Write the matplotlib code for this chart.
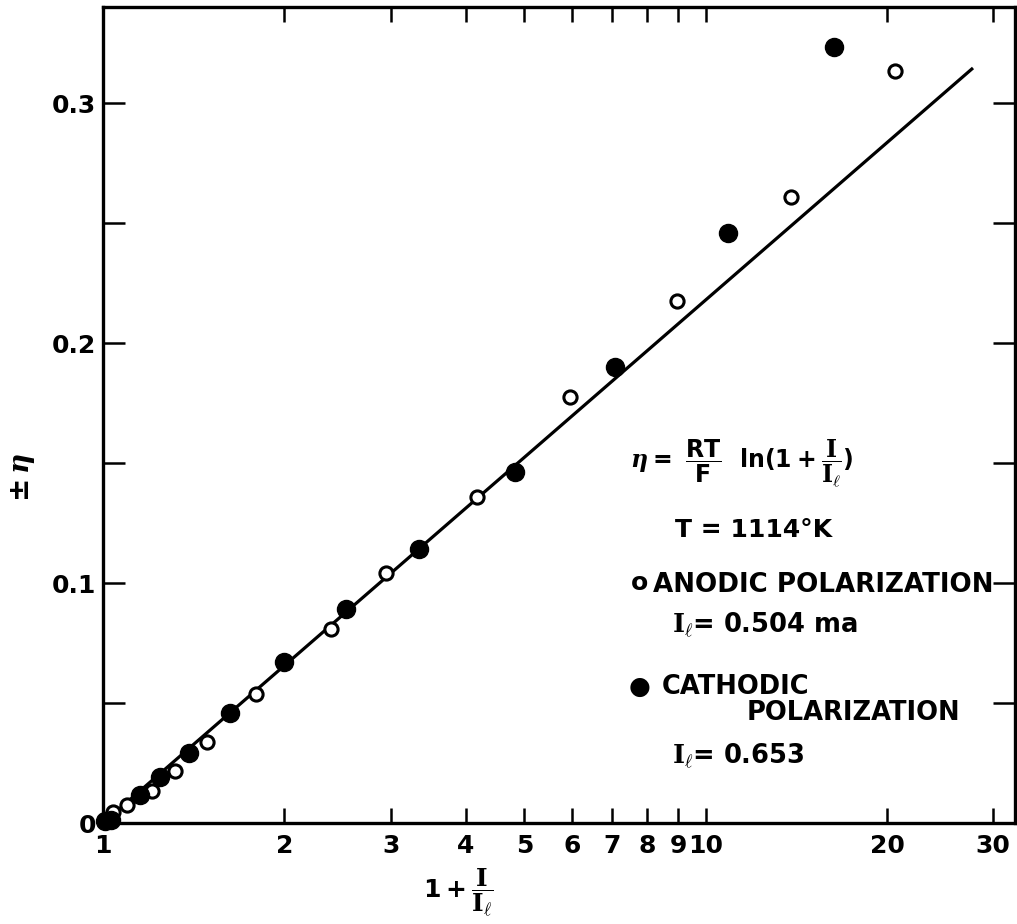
#!/usr/bin/env python3
# -*- coding: utf-8 -*-
"""
Overpotential vs 1 + I/I_l (semilog), anodic and cathodic polarization.
"""

import numpy as np
import matplotlib
matplotlib.use('Agg')
import matplotlib.pyplot as plt
from matplotlib.ticker import FixedLocator, FixedFormatter, NullFormatter

plt.rcParams['font.family'] = ['DejaVu Sans']
plt.rcParams['font.weight'] = 'bold'
plt.rcParams['mathtext.fontset'] = 'custom'
plt.rcParams['mathtext.rm'] = 'DejaVu Serif:bold'
plt.rcParams['mathtext.it'] = 'DejaVu Serif:italic:bold'
plt.rcParams['mathtext.bf'] = 'DejaVu Sans:bold'
plt.rcParams['mathtext.sf'] = 'DejaVu Sans:bold'

# Anodic polarization (open circles).
anodic_x = [1.039, 1.096, 1.207, 1.318, 1.49, 1.792, 2.389, 2.951, 4.169,
            5.957, 8.946, 13.86, 20.57]
anodic_y = [0.0046, 0.0075, 0.0133, 0.0217, 0.0338, 0.0538, 0.0808, 0.1042,
            0.1358, 0.1775, 0.2175, 0.2608, 0.3133]

# Cathodic polarization (filled circles).
cathodic_x = [1.008, 1.03, 1.152, 1.245, 1.391, 1.622, 1.995, 2.531, 3.35,
              4.823, 7.079, 10.88, 16.34]
cathodic_y = [0.0008, 0.0012, 0.0117, 0.0192, 0.0292, 0.0458, 0.0671, 0.0892,
              0.1142, 0.1463, 0.19, 0.2458, 0.3233]

# Theoretical line eta = RT/F ln(1 + I/I_l).
line_x = [1.0, 27.76]
line_y = [0.0, 0.3146]

# Axis ticks.
x_ticks = [1, 2, 3, 4, 5, 6, 7, 8, 9, 10, 20, 30]
x_ticklabels = ['1', '2', '3', '4', '5', '6', '7', '8', '9', '10', '20', '30']
y_ticks = [0, 0.1, 0.2, 0.3]
y_ticklabels = ['0', '0.1', '0.2', '0.3']
y_minor = [0.05, 0.15, 0.25]


## Plotting.
fig = plt.figure(figsize=(10.17, 9.24), dpi=100)
ax = fig.add_axes([0.1013, 0.1093, 0.8968, 0.8831])

ax.plot(line_x, line_y, color='black', linewidth=2.3, solid_capstyle='butt')
ax.plot(anodic_x, anodic_y, linestyle='', marker='o', markersize=9.5,
        markerfacecolor='white', markeredgecolor='black', markeredgewidth=2.2,
        clip_on=False, zorder=3)
ax.plot(cathodic_x, cathodic_y, linestyle='', marker='o', markersize=13,
        color='black', clip_on=False, zorder=3)

ax.set_xscale('log')
ax.set_xlim(1, 32.6)
ax.set_ylim(0, 0.34)

ax.xaxis.set_major_locator(FixedLocator(x_ticks))
ax.xaxis.set_major_formatter(FixedFormatter(x_ticklabels))
ax.xaxis.set_minor_locator(FixedLocator([]))
ax.xaxis.set_minor_formatter(NullFormatter())
ax.yaxis.set_major_locator(FixedLocator(y_ticks))
ax.yaxis.set_major_formatter(FixedFormatter(y_ticklabels))
ax.yaxis.set_minor_locator(FixedLocator(y_minor))

ax.tick_params(axis='x', which='both', direction='in', top=True, bottom=True,
               length=11, width=1.8, labelsize=18, pad=8)
ax.tick_params(axis='y', which='both', direction='in', left=True, right=True,
               length=16, width=1.8, labelsize=18, pad=5)
for spine in ax.spines.values():
    spine.set_linewidth(2.4)

# Axis labels.
ax.text(-0.088, 0.424, r'$\mathsf{\pm}\,\eta$', transform=ax.transAxes,
        rotation=90, ha='center', va='center', fontsize=20)
ax.text(0.39, -0.085, r'$\mathsf{1+}\dfrac{\mathrm{I}}{\mathrm{I}_{\ell}}$',
        transform=ax.transAxes, ha='center', va='center', fontsize=18)

# Annotation block.
ax.text(0.578, 0.441,
        r'$\eta\mathsf{=}\ \dfrac{\mathsf{RT}}{\mathsf{F}}\ \ \mathsf{ln(1+}\dfrac{\mathrm{I}}{\mathrm{I}_{\ell}}\mathsf{)}$',
        transform=ax.transAxes, ha='left', va='center', fontsize=17)
ax.text(0.627, 0.359, 'T = 1114°K', transform=ax.transAxes,
        ha='left', va='center', fontsize=18)
ax.text(0.579, 0.294, 'o', transform=ax.transAxes,
        ha='left', va='center', fontsize=18)
ax.text(0.603, 0.292, 'ANODIC POLARIZATION', transform=ax.transAxes,
        ha='left', va='center', fontsize=18.8)
ax.text(0.624, 0.243, r'$\mathrm{I}_{\ell}$= 0.504 ma', transform=ax.transAxes,
        ha='left', va='center', fontsize=18.5)
ax.text(0.576, 0.167, '●', transform=ax.transAxes,
        ha='left', va='center', fontsize=18)
ax.text(0.613, 0.167, 'CATHODIC', transform=ax.transAxes,
        ha='left', va='center', fontsize=18.5)
ax.text(0.706, 0.135, 'POLARIZATION', transform=ax.transAxes,
        ha='left', va='center', fontsize=18.5)
ax.text(0.624, 0.083, r'$\mathrm{I}_{\ell}$= 0.653', transform=ax.transAxes,
        ha='left', va='center', fontsize=18.5)

plt.savefig('out.png', dpi=100)
